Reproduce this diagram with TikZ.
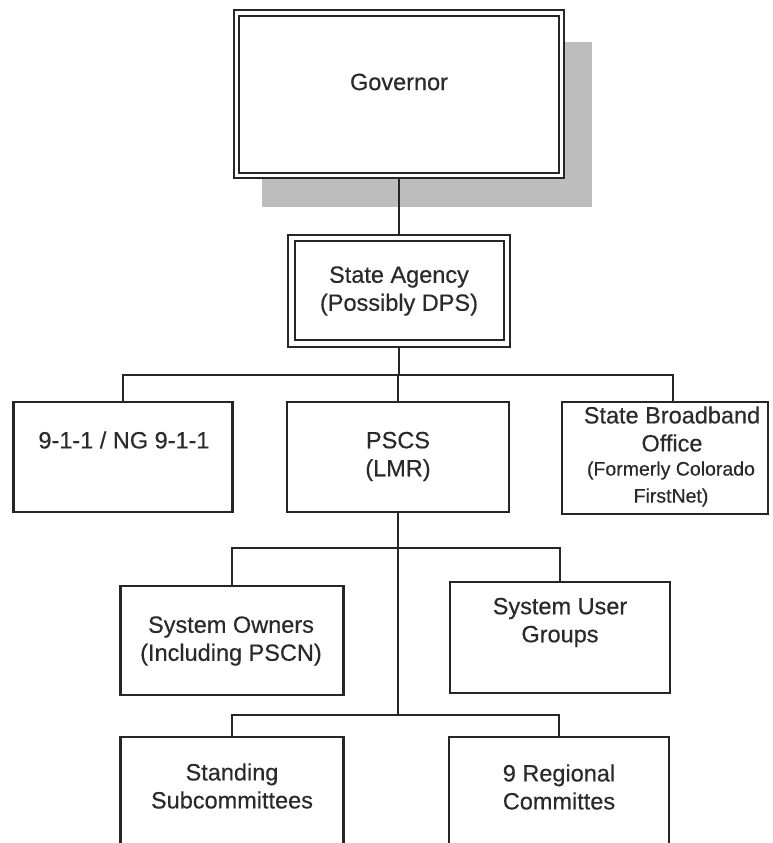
\documentclass[tikz,border=0pt]{standalone}
\usepackage{fontspec}
\setmainfont{Liberation Sans}[UprightFeatures={FakeBold=0.4}]
\definecolor{linec}{HTML}{262626}
\definecolor{textc}{HTML}{2A2A2A}
\definecolor{shadowc}{HTML}{BDBDBD}
\begin{document}
\begin{tikzpicture}[x=1pt,y=-1pt,
  box/.style={draw=linec, line width=2.4pt, fill=white, inner sep=0pt, outer sep=0pt},
  innerbox/.style={draw=linec, line width=2pt, inner sep=0pt, outer sep=0pt},
  lbl/.style={font=\fontsize{23.5}{28}\selectfont, text=textc, align=center, inner sep=0pt},
  small/.style={font=\fontsize{19.5}{27}\selectfont, text=textc, align=center, inner sep=0pt},
  wire/.style={draw=linec, line width=2.2pt}]
\useasboundingbox (0,0) rectangle (772,843);
\clip (0,0) rectangle (772,843);
\fill[white] (0,0) rectangle (772,843);

% Governor with shadow
\fill[shadowc] (262,42) rectangle (592,207);
\node[box, minimum width=330pt, minimum height=168pt] (gov) at (399,94) {};
\node[innerbox, minimum width=320pt, minimum height=157pt] (govin) at (399,94.5) {};
\node[lbl] (govt) at (399,82) {Governor};

% State Agency
\node[box, minimum width=222pt, minimum height=112pt] (sa) at (399,291) {};
\node[innerbox, minimum width=209pt, minimum height=99pt] (sain) at (399,290.5) {};
\node[lbl] (sat) at (399,291) {State Agency\\(Possibly DPS)};

% Tier 1
\node[box, minimum width=219pt, minimum height=110pt] (n911) at (123,457) {};
\node[lbl] (n911t) at (124,440) {9-1-1 / NG 9-1-1};
\node[box, minimum width=222pt, minimum height=110pt] (pscs) at (398,457) {};
\node[lbl] (pscst) at (398,456.5) {PSCS\\(LMR)};
\node[box, minimum width=206pt, minimum height=112pt] (sbo) at (665,458) {};
\coordinate (sbodrop) at (673,402);
\node[lbl] (sbot) at (672,429) {State Broadband\\Office};
\node[small] (sbos) at (671,484) {(Formerly Colorado\\FirstNet)};

% Tier 2
\node[box, minimum width=223pt, minimum height=109pt] (own) at (232,640.5) {};
\node[lbl] (ownt) at (231,641) {System Owners\\(Including PSCN)};
\node[box, minimum width=220pt, minimum height=111pt] (user) at (560,637.5) {};
\node[lbl] (usert) at (560,622.5) {System User\\Groups};

% Tier 3
\node[box, minimum width=223pt, minimum height=140pt] (stand) at (232,807) {};
\node[lbl] (standt) at (232,786) {Standing\\Subcommittees};
\node[box, minimum width=220pt, minimum height=140pt] (reg) at (559,807) {};
\node[lbl] (regt) at (559,787) {9 Regional\\Committes};

% connectors
\coordinate (b1) at (399,375);
\coordinate (b2) at (398,548);
\coordinate (b3) at (398,715);
\draw[wire] (gov.south) -- (sa.north);
\draw[wire] (sa.south) -- (b1);
\draw[wire] (n911.north) |- (b1) -| (sbodrop);
\draw[wire] (pscs.north) -- (pscs.north |- b1);
\draw[wire] (pscs.south) -- (b3);
\draw[wire] (own.north) |- (b2) -| (user.north);
\draw[wire] (stand.north) |- (b3) -| (reg.north);
\end{tikzpicture}
\end{document}
